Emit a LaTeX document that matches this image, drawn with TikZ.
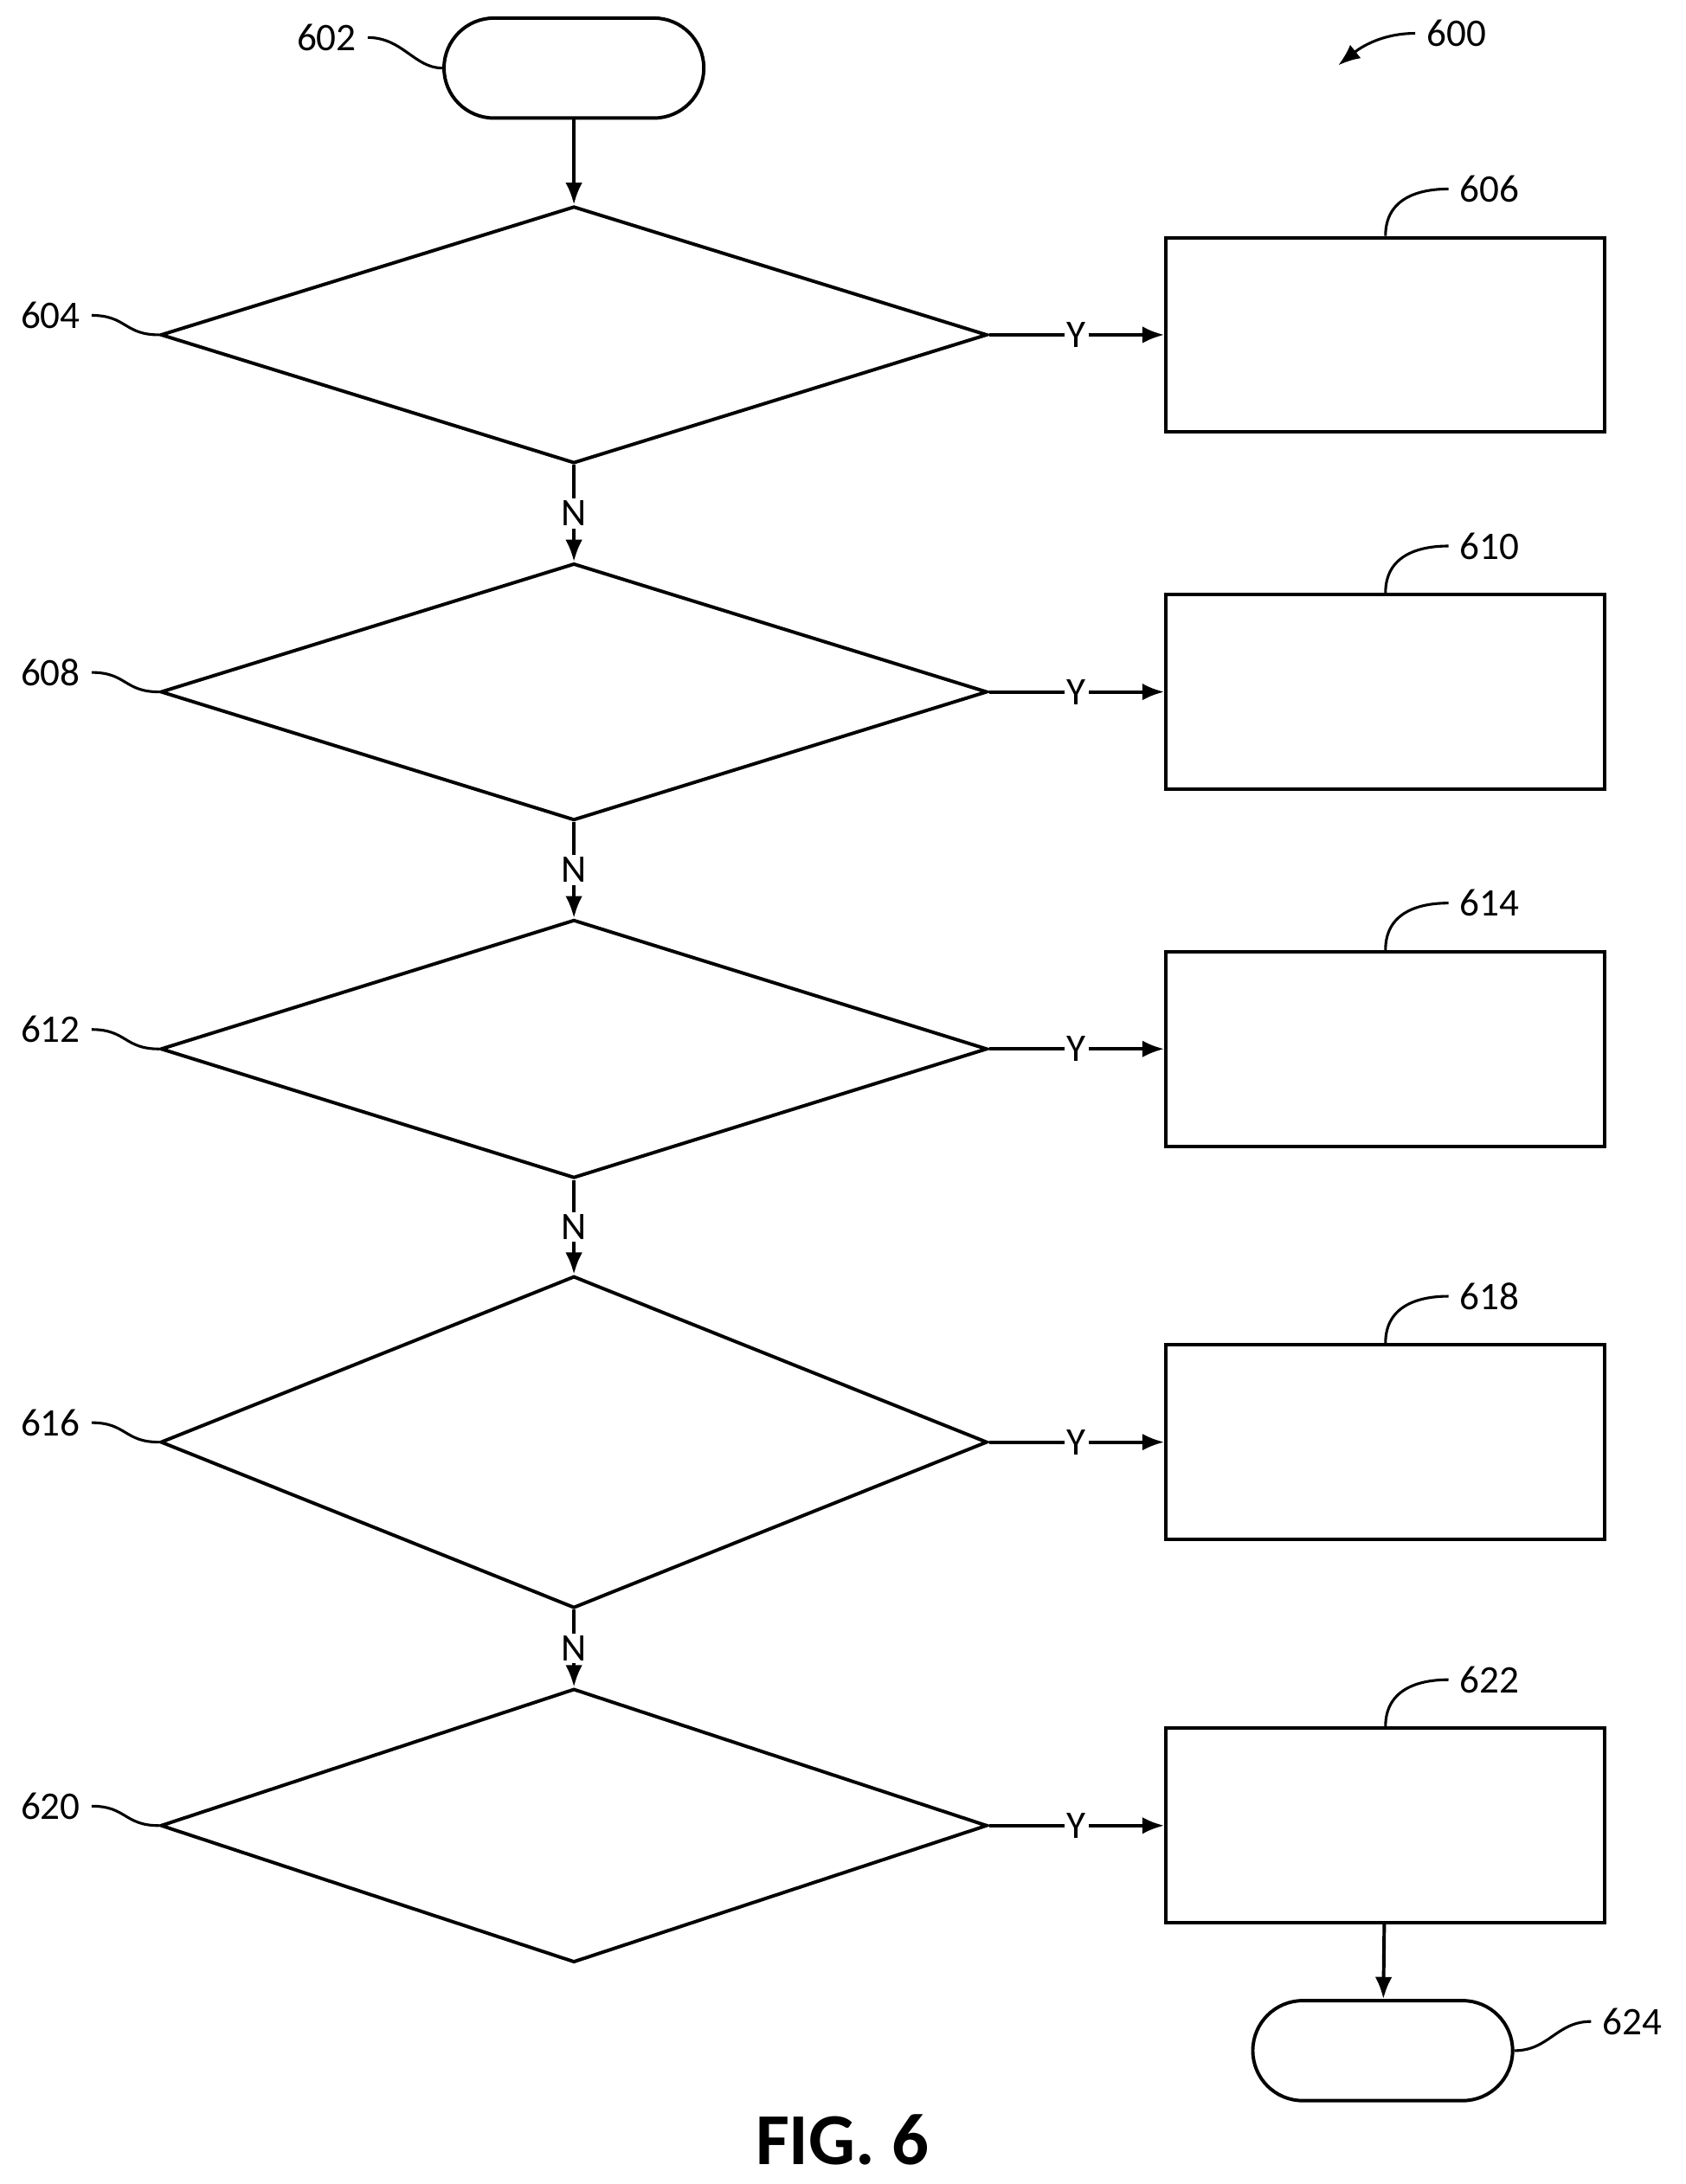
\documentclass[tikz,border=0pt]{standalone}
\usepackage{fontspec}
\setmainfont{Carlito}
\usetikzlibrary{shapes.geometric,arrows.meta}
\begin{document}
\begin{tikzpicture}[x=0.02cm,y=-0.02cm,>={Latex[length=9pt,width=7pt]},line width=1.4pt,
  dec/.style={draw,diamond,inner sep=0pt,minimum width=11.9cm},
  box/.style={draw,rectangle,minimum width=6.32cm,minimum height=2.8cm},
  term/.style={draw,rectangle,rounded corners=0.72cm,minimum width=3.74cm,minimum height=1.44cm},
  ref/.style={font=\fontsize{16}{16}\selectfont,inner sep=4pt},
  yn/.style={ref,fill=white,inner sep=1pt}]
\useasboundingbox (0,0) rectangle (1213,1572);
% start
\node[term] (s602) at (413,49) {};
\node[ref] (l602) at (235,27) {602};
\draw[line width=1.1pt] (l602.east) .. controls +(25,0) and +(-20,0) .. (s602.west);
\node[ref] (l600) at (1048,24) {600};
\coordinate (p600) at (963,47);
\draw[->,line width=1.1pt] (l600.west) .. controls +(-25,0) and +(15,-12) .. (p600);
% decisions and boxes
\foreach \d/\b/\cy/\h in {604/606/241/3.7,608/610/498/3.7,612/614/755/3.72,616/618/1038/4.78,620/622/1314/3.94}{
  \node[dec,minimum height=\h cm] (d\d) at (413,\cy) {};
  \node[box] (b\b) at (997,\cy) {};
  \draw[->] (d\d.east) -- node[yn]{Y} (b\b.west);
  \node[ref,anchor=east] (l\d) at (66,\cy-14) {\d};
  \draw[line width=1.1pt] (l\d.east) .. controls +(25,0) and +(-25,0) .. (d\d.west);
  \node[ref] (l\b) at (1072,\cy-105) {\b};
  \draw[line width=1.1pt] (b\b.north) .. controls +(0,-28) and +(-20,0) .. (l\b.west);
}
\draw[->] (s602) -- (d604.north);
\foreach \a/\c in {604/608,608/612,612/616,616/620}
  \draw[->] (d\a.south) -- node[yn]{N} (d\c.north);
% end
\node[term] (e624) at (995,1476) {};
\draw[->] (b622) -- (e624);
\node[ref,anchor=west] (l624) at (1145,1455) {624};
\draw[line width=1.1pt] (e624.east) .. controls +(25,0) and +(-25,0) .. (l624.west);
\node[font=\bfseries\fontsize{30}{30}\selectfont] (fig) at (606,1540) {FIG. 6};
\end{tikzpicture}
\end{document}
